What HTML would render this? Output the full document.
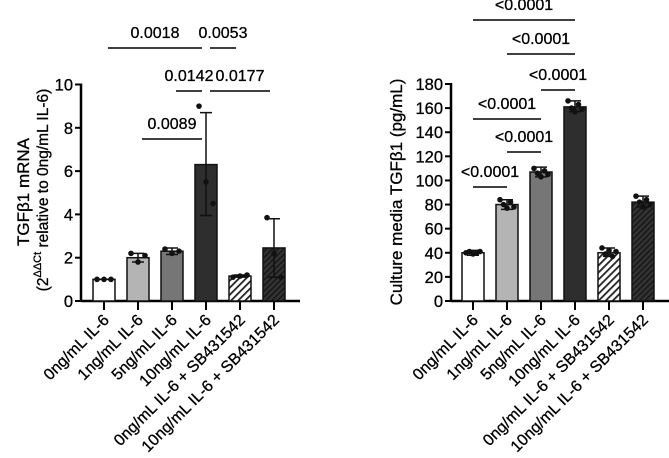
<!DOCTYPE html>
<html><head><meta charset="utf-8"><style>
body{margin:0;background:#fff}
svg{display:block;font-family:"Liberation Sans",Arial,sans-serif}
text{stroke:#000;stroke-width:0.3px}
</style></head><body>
<svg id="s" width="669" height="458" viewBox="0 0 669 458">
<defs>
<pattern id="hl" patternUnits="userSpaceOnUse" width="5" height="5" patternTransform="rotate(45)"><rect width="5" height="5" fill="#fff"/><rect width="1.8" height="5" fill="#222"/></pattern>
<pattern id="hd" patternUnits="userSpaceOnUse" width="4" height="4" patternTransform="rotate(45)"><rect width="4" height="4" fill="#333"/><rect width="1.2" height="4" fill="#111"/></pattern>
</defs>
<g id="L"></g>
<g id="R"></g>
<text transform="translate(29,192) rotate(-90)" text-anchor="middle" font-size="17">TGFβ1 mRNA</text>
<text transform="translate(48,190) rotate(-90)" text-anchor="middle" font-size="15.5">(2<tspan font-size="11" dy="-7">ΔΔCt</tspan><tspan dy="7"> relative to 0ng/mL IL-6)</tspan></text>
<text transform="translate(402,192) rotate(-90)" text-anchor="middle" font-size="17">Culture media TGFβ1 (pg/mL)</text>
</svg>
<script>
const categories=["0ng/mL IL-6","1ng/mL IL-6","5ng/mL IL-6","10ng/mL IL-6","0ng/mL IL-6 + SB431542","10ng/mL IL-6 + SB431542"];
const leftValues=[1.0,2.0,2.3,6.3,1.15,2.45];
const leftErrLo=[1.0,1.8,2.15,3.95,1.1,1.1];
const leftErrHi=[1.0,2.2,2.45,8.7,1.2,3.8];
const leftPoints=[[1,1,1],[2.2,1.8,2.1],[2.4,2.2,2.3],[9.0,5.5,4.5],[1.1,1.15,1.2],[3.85,2.2,1.1]];
const leftTicks=[0,2,4,6,8,10];
const leftSig=[["0.0018",0,3,48],["0.0053",3,4,48],["0.0142",2,3,91],["0.0177",3,5,91],["0.0089",1,3,139]];
const rightValues=[40,80,107,161,40,82];
const rightErrLo=[38,76,103,157,37,78];
const rightErrHi=[42,84,111,166,44,87];
const rightPoints=[[40,41,39,40,41],[84,80,77,82,78],[110,106,103,108,105],[166,160,157,163,159],[44,39,42,37,41],[87,82,78,84,80]];
const rightTicks=[0,20,40,60,80,100,120,140,160,180];
const rightSig=[["<0.0001",0,3,20],["<0.0001",1,3,54],["<0.0001",2,3,90],["<0.0001",0,2,119],["<0.0001",1,2,152],["<0.0001",0,1,187]];
const fills=["#fff","#b4b4b4","#767676","#2e2e2e","url(#hl)","url(#hd)"];
const NS="http://www.w3.org/2000/svg";
function mk(p,t,a){const e=document.createElementNS(NS,t);for(const k in a)e.setAttribute(k,a[k]);p.appendChild(e);return e;}
function draw(g,o){
 const y=v=>o.y0-(v/o.max)*(o.y0-o.yTop);
 const x=i=>o.x0+i*34;
 const ax=mk(g,"line",{x1:o.axX,y1:o.yTop-1,x2:o.axX,y2:o.y0,stroke:"#000","stroke-width":2.5});
 
 
 const xa=mk(g,"line",{x1:o.axX,y1:o.y0,x2:o.xEnd,y2:o.y0,stroke:"#000","stroke-width":2.5});
 
 
 o.ticks.forEach(t=>{
  const tk=mk(g,"line",{x1:o.axX-6,x2:o.axX,y1:y(t),y2:y(t),stroke:"#000","stroke-width":2});
  
  
  const tl=mk(g,"text",{x:o.axX-8,y:y(t)+6,"text-anchor":"end","font-size":16.5});
  tl.textContent=t;
  
  
 });
 o.vals.forEach((v,i)=>{
  const cx=x(i)+11;
  const b=mk(g,"rect",{x:x(i),y:y(v),width:22,height:o.y0-y(v),fill:fills[i],stroke:"#111","stroke-width":1.5});
  
  
  const e=mk(g,"path",{d:`M${cx},${y(o.lo[i])}V${y(o.hi[i])}M${cx-6},${y(o.lo[i])}h12M${cx-6},${y(o.hi[i])}h12`,stroke:"#111","stroke-width":1.5,fill:"none"});
  
  
  const n=o.pts[i].length;
  o.pts[i].forEach((p,j)=>{
   const c=mk(g,"circle",{cx:cx-7+14*j/(n-1),cy:y(p),r:2.8,fill:"#111"});
   
   
  });
  const tk=mk(g,"line",{x1:cx,x2:cx,y1:o.y0,y2:o.y0+9,stroke:"#000","stroke-width":2});
  
  
  const tl=mk(g,"text",{transform:`translate(${cx+6},${o.y0+20}) rotate(-45)`,"text-anchor":"end","font-size":16});
  tl.textContent=categories[i];
  
  
 });
 o.sig.forEach(s=>{
  const a=x(s[1])+11,b=x(s[2])+11;
  const ln=mk(g,"line",{x1:a+(o.pad||0),x2:b-(o.pad||0),y1:s[3],y2:s[3],stroke:"#000","stroke-width":1.5});
  
  
  const t=mk(g,"text",{x:(a+b)/2,y:s[3]-10,"text-anchor":"middle","font-size":16});
  t.textContent=s[0];
  
  
 });
}
draw(document.getElementById("L"),{x0:93,axX:81,xEnd:300,y0:301,yTop:84.5,max:10,vals:leftValues,lo:leftErrLo,hi:leftErrHi,pts:leftPoints,ticks:leftTicks,sig:leftSig,pad:4});
draw(document.getElementById("R"),{x0:462,axX:451,xEnd:669,y0:301,yTop:84,max:180,vals:rightValues,lo:rightErrLo,hi:rightErrHi,pts:rightPoints,ticks:rightTicks,sig:rightSig,pad:0});
</script>
</body></html>
